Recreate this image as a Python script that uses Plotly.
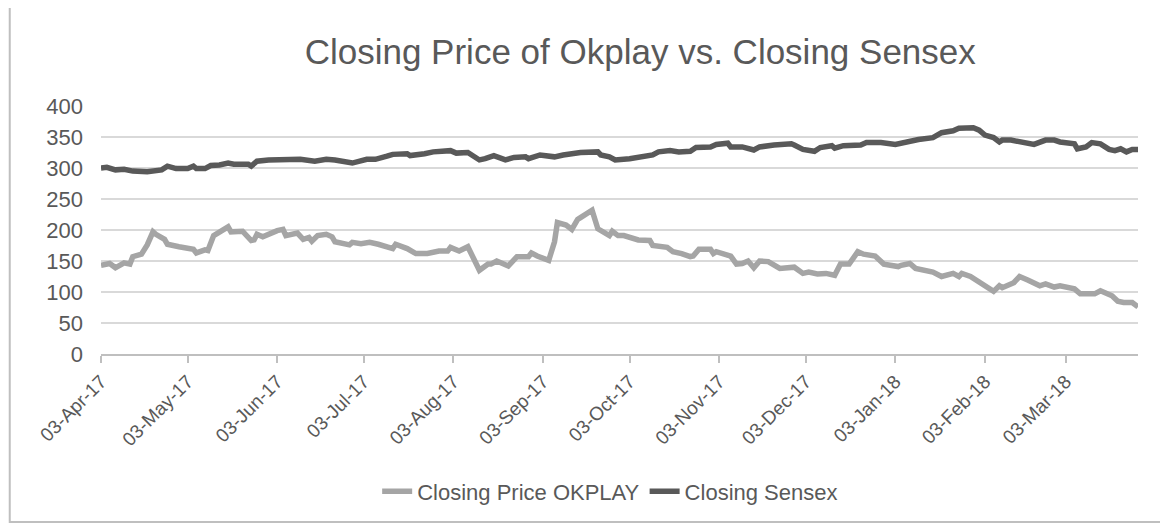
import plotly.graph_objects as go

okplay_dates = [
    "2017-04-03", "2017-04-06", "2017-04-08", "2017-04-11", "2017-04-13", "2017-04-14", "2017-04-17",
    "2017-04-19", "2017-04-21", "2017-04-22", "2017-04-25", "2017-04-26", "2017-04-30", "2017-05-05",
    "2017-05-06", "2017-05-09", "2017-05-10", "2017-05-12", "2017-05-17", "2017-05-18", "2017-05-22",
    "2017-05-25", "2017-05-26", "2017-05-27", "2017-05-29", "2017-06-01", "2017-06-03", "2017-06-05",
    "2017-06-06", "2017-06-10", "2017-06-12", "2017-06-14", "2017-06-15", "2017-06-17", "2017-06-20",
    "2017-06-22", "2017-06-23", "2017-06-28", "2017-06-29", "2017-07-02", "2017-07-05", "2017-07-08",
    "2017-07-13", "2017-07-14", "2017-07-18", "2017-07-21", "2017-07-25", "2017-07-29", "2017-08-01",
    "2017-08-02", "2017-08-05", "2017-08-08", "2017-08-12", "2017-08-15", "2017-08-16", "2017-08-18",
    "2017-08-22", "2017-08-25", "2017-08-29", "2017-08-30", "2017-09-01", "2017-09-05", "2017-09-07",
    "2017-09-08", "2017-09-11", "2017-09-13", "2017-09-15", "2017-09-16", "2017-09-20", "2017-09-22",
    "2017-09-26", "2017-09-27", "2017-09-29", "2017-10-01", "2017-10-06", "2017-10-10", "2017-10-11",
    "2017-10-16", "2017-10-18", "2017-10-21", "2017-10-24", "2017-10-25", "2017-10-27", "2017-10-31",
    "2017-11-01", "2017-11-02", "2017-11-07", "2017-11-09", "2017-11-11", "2017-11-13", "2017-11-15",
    "2017-11-17", "2017-11-20", "2017-11-24", "2017-11-29", "2017-12-02", "2017-12-04", "2017-12-07",
    "2017-12-10", "2017-12-13", "2017-12-15", "2017-12-18", "2017-12-21", "2017-12-23", "2017-12-27",
    "2017-12-30", "2018-01-02", "2018-01-04", "2018-01-05", "2018-01-08", "2018-01-10", "2018-01-14",
    "2018-01-16", "2018-01-19", "2018-01-23", "2018-01-25", "2018-01-26", "2018-01-29", "2018-02-03",
    "2018-02-06", "2018-02-08", "2018-02-09", "2018-02-13", "2018-02-15", "2018-02-18", "2018-02-22",
    "2018-02-24", "2018-02-27", "2018-03-01", "2018-03-06", "2018-03-08", "2018-03-13", "2018-03-15",
    "2018-03-19", "2018-03-21", "2018-03-23", "2018-03-26", "2018-03-28",
]
okplay_close = [
    143, 146, 139, 147, 145, 157, 161,
    176, 197, 193, 185, 177, 173, 169,
    163, 168, 167, 191, 205, 197, 198,
    183, 184, 193, 189, 196, 199, 201,
    191, 195, 185, 188, 182, 191, 193,
    189, 181, 176, 180, 178, 180, 177,
    170, 177, 170, 162, 162, 166, 166,
    172, 166, 173, 135, 145, 145, 150,
    142, 157, 157, 163, 158, 151, 181,
    212, 208, 201, 217, 220, 232, 202,
    191, 198, 191, 191, 184, 183, 175,
    172, 165, 162, 157, 158, 169, 169,
    162, 165, 158, 145, 146, 150, 139,
    150, 149, 138, 140, 130, 132, 129,
    130, 127, 145, 145, 165, 161, 158,
    145, 142, 141, 143, 146, 138, 135,
    132, 125, 130, 125, 130, 125, 110,
    101, 110, 107, 115, 125, 119, 110,
    113, 108, 110, 105, 97, 97, 102,
    94, 85, 83, 83, 76,
]

sensex_dates = [
    "2017-04-03", "2017-04-05", "2017-04-08", "2017-04-11", "2017-04-14", "2017-04-19", "2017-04-24",
    "2017-04-26", "2017-04-29", "2017-05-03", "2017-05-05", "2017-05-06", "2017-05-09", "2017-05-11",
    "2017-05-14", "2017-05-17", "2017-05-19", "2017-05-24", "2017-05-25", "2017-05-27", "2017-05-31",
    "2017-06-05", "2017-06-11", "2017-06-16", "2017-06-20", "2017-06-23", "2017-06-29", "2017-07-04",
    "2017-07-07", "2017-07-11", "2017-07-13", "2017-07-18", "2017-07-19", "2017-07-24", "2017-07-27",
    "2017-08-02", "2017-08-04", "2017-08-08", "2017-08-12", "2017-08-14", "2017-08-17", "2017-08-21",
    "2017-08-24", "2017-08-28", "2017-08-29", "2017-09-02", "2017-09-07", "2017-09-10", "2017-09-13",
    "2017-09-16", "2017-09-22", "2017-09-23", "2017-09-26", "2017-09-28", "2017-10-03", "2017-10-07",
    "2017-10-11", "2017-10-13", "2017-10-17", "2017-10-20", "2017-10-24", "2017-10-26", "2017-10-31",
    "2017-11-02", "2017-11-06", "2017-11-07", "2017-11-11", "2017-11-15", "2017-11-17", "2017-11-22",
    "2017-11-28", "2017-11-29", "2017-12-02", "2017-12-06", "2017-12-08", "2017-12-12", "2017-12-13",
    "2017-12-16", "2017-12-20", "2017-12-22", "2017-12-24", "2017-12-29", "2018-01-03", "2018-01-07",
    "2018-01-11", "2018-01-16", "2018-01-19", "2018-01-23", "2018-01-25", "2018-01-30", "2018-02-01",
    "2018-02-03", "2018-02-06", "2018-02-08", "2018-02-09", "2018-02-12", "2018-02-15", "2018-02-20",
    "2018-02-24", "2018-02-27", "2018-03-01", "2018-03-06", "2018-03-07", "2018-03-10", "2018-03-12",
    "2018-03-15", "2018-03-18", "2018-03-20", "2018-03-22", "2018-03-24", "2018-03-26", "2018-03-28",
]
sensex_close = [
    300, 301, 297, 298, 295, 294, 297,
    303, 299, 299, 303, 299, 299, 304,
    305, 308, 306, 306, 303, 311, 313,
    314, 314, 311, 314, 313, 308, 314,
    314, 319, 322, 323, 320, 323, 326,
    328, 324, 325, 313, 315, 320, 313,
    317, 318, 315, 321, 318, 321, 324,
    325, 326, 321, 318, 313, 315, 319,
    321, 326, 328, 326, 327, 333, 334,
    338, 340, 334, 334, 329, 334, 337,
    339, 337, 330, 327, 333, 336, 332,
    336, 338, 337, 341, 341, 338, 343,
    346, 349, 357, 360, 364, 365, 361,
    353, 349, 342, 345, 345, 343, 338,
    345, 345, 342, 339, 331, 334, 341,
    339, 330, 328, 331, 326, 330, 330,
]

tick_dates = [
    "2017-04-03", "2017-05-03", "2017-06-03", "2017-07-03", "2017-08-03", "2017-09-03",
    "2017-10-03", "2017-11-03", "2017-12-03", "2018-01-03", "2018-02-03", "2018-03-03",
]
tick_labels = [
    "03-Apr-17", "03-May-17", "03-Jun-17", "03-Jul-17", "03-Aug-17", "03-Sep-17",
    "03-Oct-17", "03-Nov-17", "03-Dec-17", "03-Jan-18", "03-Feb-18", "03-Mar-18",
]
y_ticks = [0, 50, 100, 150, 200, 250, 300, 350, 400]

FONT = "Liberation Sans, Arial, sans-serif"
TXT = "#595959"

fig = go.Figure()
fig.add_trace(go.Scatter(
    x=okplay_dates, y=okplay_close, mode="lines", name="Closing Price OKPLAY",
    line=dict(color="#a5a5a5", width=5.5),
))
fig.add_trace(go.Scatter(
    x=sensex_dates, y=sensex_close, mode="lines", name="Closing Sensex",
    line=dict(color="#595959", width=5.5),
))

fig.update_layout(
    width=1160, height=517,
    margin=dict(l=93, r=30, t=98, b=163),
    paper_bgcolor="white", plot_bgcolor="white",
    font=dict(family=FONT, color=TXT, size=20),
    title=dict(
        text="Closing Price of Okplay vs. Closing Sensex",
        x=0.52, xanchor="center", xref="paper", y=0.915, yanchor="middle",
        font=dict(size=35, color=TXT, family=FONT),
    ),
    showlegend=True,
    legend=dict(
        orientation="h", x=0.491, xanchor="center", y=-0.47, yanchor="top",
        font=dict(size=22, color=TXT, family=FONT),
        itemwidth=30, tracegroupgap=0,
    ),
    xaxis=dict(
        type="date", range=["2017-04-03", "2018-03-28"],
        tickvals=tick_dates, ticktext=tick_labels, tickangle=-45,
        tickfont=dict(size=19, color=TXT),
        showgrid=False, showline=True, linecolor="#bfbfbf", linewidth=2,
        ticks="outside", ticklen=7, tickcolor="#bfbfbf", tickwidth=2,
        zeroline=False,
    ),
    yaxis=dict(
        range=[0, 400], tickvals=y_ticks,
        tickfont=dict(size=22, color=TXT),
        showgrid=True, gridcolor="#d9d9d9", gridwidth=2,
        showline=False, zeroline=False, ticks="", ticklabelstandoff=17,
    ),
    shapes=[dict(
        type="rect", xref="paper", yref="paper",
        x0=-0.088, x1=1.025, y0=-0.677, y1=1.40,
        line=dict(color="#bfbfbf", width=2), fillcolor="rgba(0,0,0,0)",
        layer="below",
    )],
)

fig.write_html("out.html")
